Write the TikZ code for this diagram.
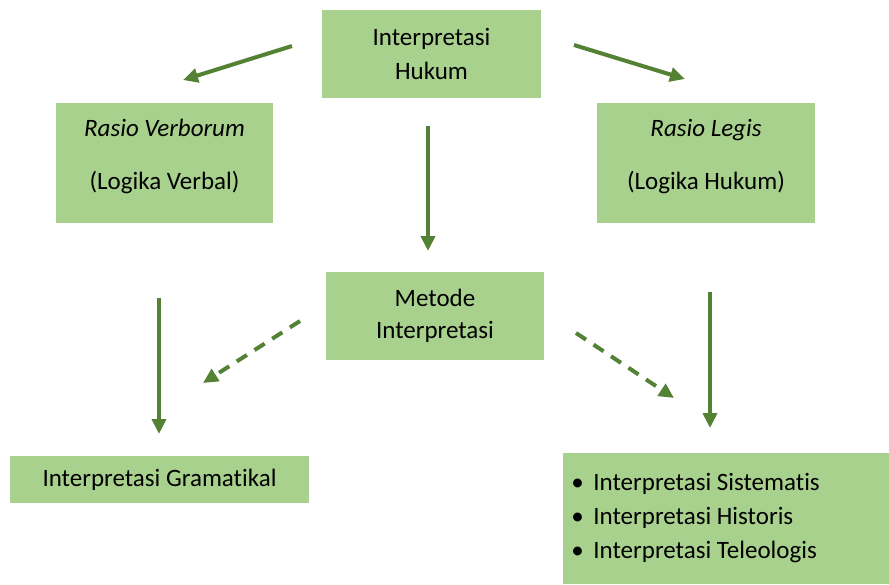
\documentclass[tikz,border=0pt]{standalone}
\usepackage{fontspec}
\setmainfont{Carlito}[Ligatures=NoCommon]
\usepackage{tikz}
\usetikzlibrary{arrows.meta}
\definecolor{boxgreen}{HTML}{A9D18E}
\definecolor{arrowgreen}{HTML}{548235}
\newcommand{\itembul}{\makebox[11pt][l]{•}}

\begin{document}
\begin{tikzpicture}[
    x=0.5pt, y=-0.5pt,
    box/.style={fill=boxgreen, inner sep=0pt, align=center, font=\fontsize{12.5}{17}\selectfont},
    arrow/.style={-{Triangle[length=7.5pt, width=7pt]}, line width=2pt, arrowgreen},
    dasharrow/.style={arrow, dash pattern=on 6pt off 4.5pt}
  ]
    \useasboundingbox (0,0) rectangle (889,584);
    \node[box, minimum width=109.5pt, minimum height=44pt] (hukum) at (431.5,54) {Interpretasi\\Hukum};
    \node[box, minimum width=108.5pt, minimum height=60pt, text depth=9pt] (verborum) at (164.5,163) {\textit{Rasio Verborum}\\[9.5pt](Logika Verbal)};
    \node[box, minimum width=109pt, minimum height=60pt, text depth=9pt] (legis) at (706,163) {\textit{Rasio Legis}\\[9.5pt](Logika Hukum)};
    \node[box, minimum width=109pt, minimum height=44pt] (metode) at (435,316) {Metode\\[-1pt]Interpretasi};
    \node[box, minimum width=149.5pt, minimum height=23.5pt] (gramatikal) at (159.5,479.5) {Interpretasi Gramatikal};
    \node[box, anchor=west, align=flush left, text width=155pt, inner xsep=4pt, minimum height=65.5pt] (lainnya) at (563,518.5)
      {\itembul Interpretasi Sistematis\\\itembul Interpretasi Historis\\\itembul Interpretasi Teleologis};
    % ends of the floating arrows
    \coordinate (h1) at (292,46);   \coordinate (v1) at (183,80);
    \coordinate (h2) at (574,45);   \coordinate (l1) at (685,79);
    \coordinate (h3) at (428,126);  \coordinate (m1) at (428,251);
    \coordinate (v2) at (159,298);  \coordinate (g1) at (159,434);
    \coordinate (l2) at (710,292);  \coordinate (s1) at (710,428);
    \coordinate (m2) at (300,321);  \coordinate (g2) at (203,383);
    \coordinate (m3) at (576,333);  \coordinate (s2) at (674,398);
    \draw[arrow] (h1) -- (v1);
    \draw[arrow] (h2) -- (l1);
    \draw[arrow] (h3) -- (m1);
    \draw[arrow] (v2) -- (g1);
    \draw[arrow] (l2) -- (s1);
    \draw[dasharrow] (m2) -- (g2);
    \draw[dasharrow] (m3) -- (s2);
  \end{tikzpicture}
\end{document}
